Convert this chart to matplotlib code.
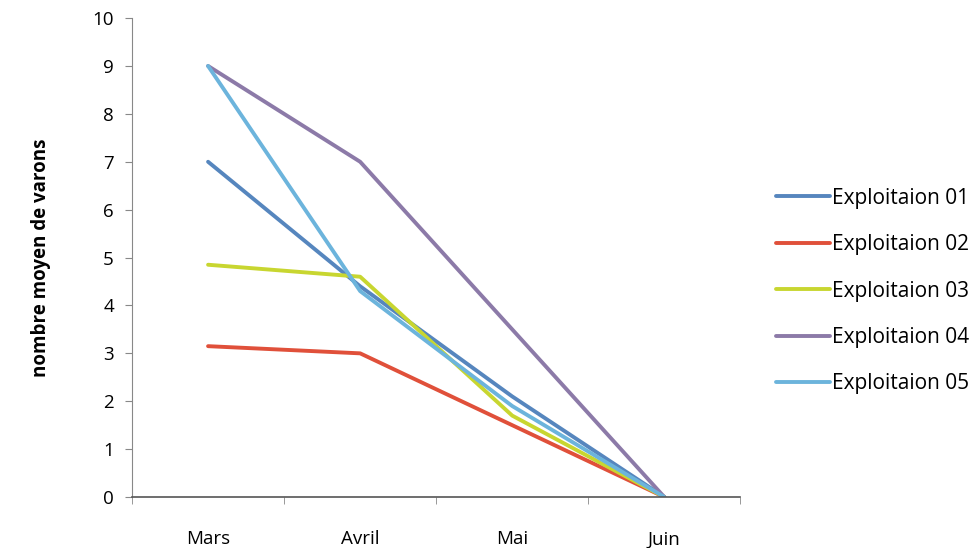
import matplotlib
matplotlib.use("Agg")
import matplotlib.pyplot as plt

plt.rcParams['font.family'] = ['Open Sans', 'DejaVu Sans']

months = ["Mars", "Avril", "Mai", "Juin"]
series_names = ["Exploitaion 01", "Exploitaion 02", "Exploitaion 03", "Exploitaion 04", "Exploitaion 05"]
exp01 = [7.0, 4.4, 2.1, 0.0]
exp02 = [3.15, 3.0, 1.5, 0.0]
exp03 = [4.85, 4.6, 1.7, 0.0]
exp04 = [9.0, 7.0, 3.5, 0.0]
exp05 = [9.0, 4.3, 1.9, 0.0]
colors = ["#5686BE", "#E0503A", "#C8D630", "#8C7AA8", "#6CB4DC"]

fig = plt.figure(figsize=(9.78, 5.48), dpi=100)
ax = fig.add_axes([0.135, 0.093, 0.622, 0.874])

x = list(range(len(months)))
for name, vals, c in zip(series_names, [exp01, exp02, exp03, exp04, exp05], colors):
    ax.plot(x, vals, color=c, lw=2.8, label=name, solid_capstyle='round')

ax.set_xlim(-0.5, 3.5)
ax.set_ylim(0, 10)
ax.set_yticks(range(0, 11))
ax.set_xticks(x)
ax.set_xticklabels(months)
ax.set_xticks([-0.5, 0.5, 1.5, 2.5, 3.5], minor=True)
ax.tick_params(axis='x', which='major', length=0, pad=24, labelsize=13.5)
ax.tick_params(axis='x', which='minor', length=5, color='#888888', direction='out')
ax.tick_params(axis='y', length=5, color='#888888', direction='out', labelsize=13.5, pad=8)
for s in ['top', 'right']:
    ax.spines[s].set_visible(False)
ax.spines['left'].set_color('#888888')
ax.spines['bottom'].set_color('#555555')
ax.spines['bottom'].set_linewidth(1.2)

ax.set_ylabel("nombre moyen de varons", fontsize=13.5, fontweight='bold', labelpad=30)

leg = ax.legend(loc='center left', bbox_to_anchor=(1.045, 0.43), frameon=False,
                fontsize=15, handlelength=2.6, handletextpad=0.1, labelspacing=1.22,
                borderaxespad=0.0)

fig.savefig("out.png", dpi=100)
